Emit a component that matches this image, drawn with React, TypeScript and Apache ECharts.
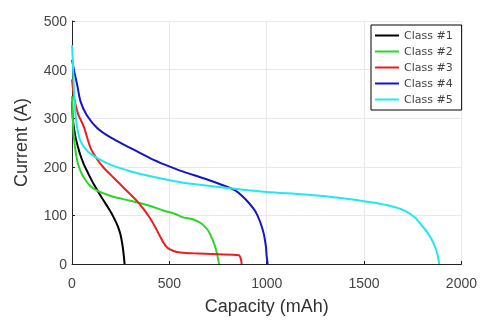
import React, { useEffect, useRef } from "react";
import * as echarts from "echarts";

const seriesNames = ["Class #1", "Class #2", "Class #3", "Class #4", "Class #5"];
const colors = ["#000000", "#2ad62a", "#ee1c1c", "#1414c8", "#22e8ee"];

const class1: [number, number][] = [
  [0, 335], [4, 300], [10, 280], [19, 259], [40, 228], [61, 205], [85, 185], [112, 164],
  [140, 145], [163, 130], [190, 113], [214, 96], [235, 78], [248, 62], [258, 42], [265, 21], [270, 0],
];
const class2: [number, number][] = [
  [0, 345], [4, 300], [10, 259], [27, 212], [45, 190], [61, 178], [90, 162], [129, 151],
  [200, 140], [299, 130], [398, 120], [469, 110], [530, 103], [571, 96], [620, 92],
  [653, 86], [680, 78], [704, 66], [722, 50], [738, 32], [748, 15], [755, 0],
];
const class3: [number, number][] = [
  [0, 380], [12, 340], [30, 310], [61, 282], [95, 239], [130, 215], [163, 198], [220, 175],
  [265, 157], [333, 130], [370, 112], [401, 94], [430, 74], [452, 57], [480, 38],
  [503, 30], [546, 24], [620, 22], [750, 20], [857, 18], [866, 12], [870, 5], [871, 0],
];
const class4: [number, number][] = [
  [0, 420], [5, 410], [12, 395], [27, 368], [44, 334], [76, 306], [129, 280], [200, 260],
  [299, 239], [400, 218], [480, 204], [571, 190], [680, 176], [789, 160], [840, 151],
  [874, 140], [910, 125], [942, 108], [965, 88], [985, 62], [996, 35], [1000, 15], [1005, 0],
];
const class5: [number, number][] = [
  [0, 450], [4, 420], [10, 360], [18, 310], [27, 280], [44, 253], [80, 232], [129, 218],
  [200, 204], [299, 191], [398, 181], [571, 167], [789, 157], [1000, 148], [1197, 143],
  [1400, 135], [1536, 127], [1640, 119], [1708, 110], [1760, 96], [1791, 82], [1830, 62],
  [1860, 40], [1878, 18], [1886, 0],
];
const allData = [class1, class2, class3, class4, class5];

const xTicks = [0, 500, 1000, 1500, 2000];
const yTicks = [0, 100, 200, 300, 400, 500];

export default function App() {
  const ref = useRef<HTMLDivElement>(null);
  useEffect(() => {
    if (!ref.current) return;
    const chart = echarts.init(ref.current, undefined, { renderer: "svg" });
    const font = "'Liberation Sans', Arial, sans-serif";
    const legendFont = "'DejaVu Sans', Arial, sans-serif";
    chart.setOption({
      animation: false,
      textStyle: { fontFamily: font },
      grid: { left: 72, right: 16, top: 21, bottom: 53, containLabel: false },
      legend: {
        data: seriesNames,
        orient: "vertical",
        left: 371,
        top: 25,
        padding: [5, 9, 5, 4],
        borderColor: "#000",
        borderWidth: 1,
        backgroundColor: "#fff",
        icon: "rect",
        itemWidth: 24,
        itemHeight: 2,
        itemGap: 5,
        textStyle: { fontSize: 11, lineHeight: 11, color: "#444", fontFamily: legendFont },
      },
      xAxis: {
        type: "value",
        min: xTicks[0],
        max: xTicks[xTicks.length - 1],
        interval: 500,
        name: "Capacity (mAh)",
        nameLocation: "middle",
        nameGap: 33,
        nameTextStyle: { fontSize: 18, color: "#333", fontFamily: font },
        axisLine: { show: true, onZero: false, lineStyle: { color: "#222", width: 1 } },
        axisTick: { show: true, inside: true, length: 3, lineStyle: { color: "#222" } },
        axisLabel: {
          fontSize: 14,
          color: "#444",
          margin: 12,
          fontFamily: font,
          formatter: (v: number) => String(v),
        },
        splitLine: { show: true, lineStyle: { color: "#e8e8e8" } },
      },
      yAxis: {
        type: "value",
        min: yTicks[0],
        max: yTicks[yTicks.length - 1],
        interval: 100,
        name: "Current (A)",
        nameLocation: "middle",
        nameGap: 42,
        nameTextStyle: { fontSize: 18, color: "#333", fontFamily: font },
        axisLine: { show: true, onZero: false, lineStyle: { color: "#222", width: 1 } },
        axisTick: { show: true, inside: true, length: 3, lineStyle: { color: "#222" } },
        axisLabel: { fontSize: 14, color: "#444", margin: 5, fontFamily: font },
        splitLine: { show: true, lineStyle: { color: "#e8e8e8" } },
      },
      series: allData.map((d, i) => ({
        name: seriesNames[i],
        type: "line",
        data: d,
        showSymbol: false,
        smooth: 0.3,
        color: colors[i],
        lineStyle: { width: 2, color: colors[i] },
      })),
    });
    return () => chart.dispose();
  }, []);
  return (
    <div
      ref={ref}
      style={{ position: "fixed", left: 0, top: 0, width: 480, height: 320 }}
    />
  );
}
